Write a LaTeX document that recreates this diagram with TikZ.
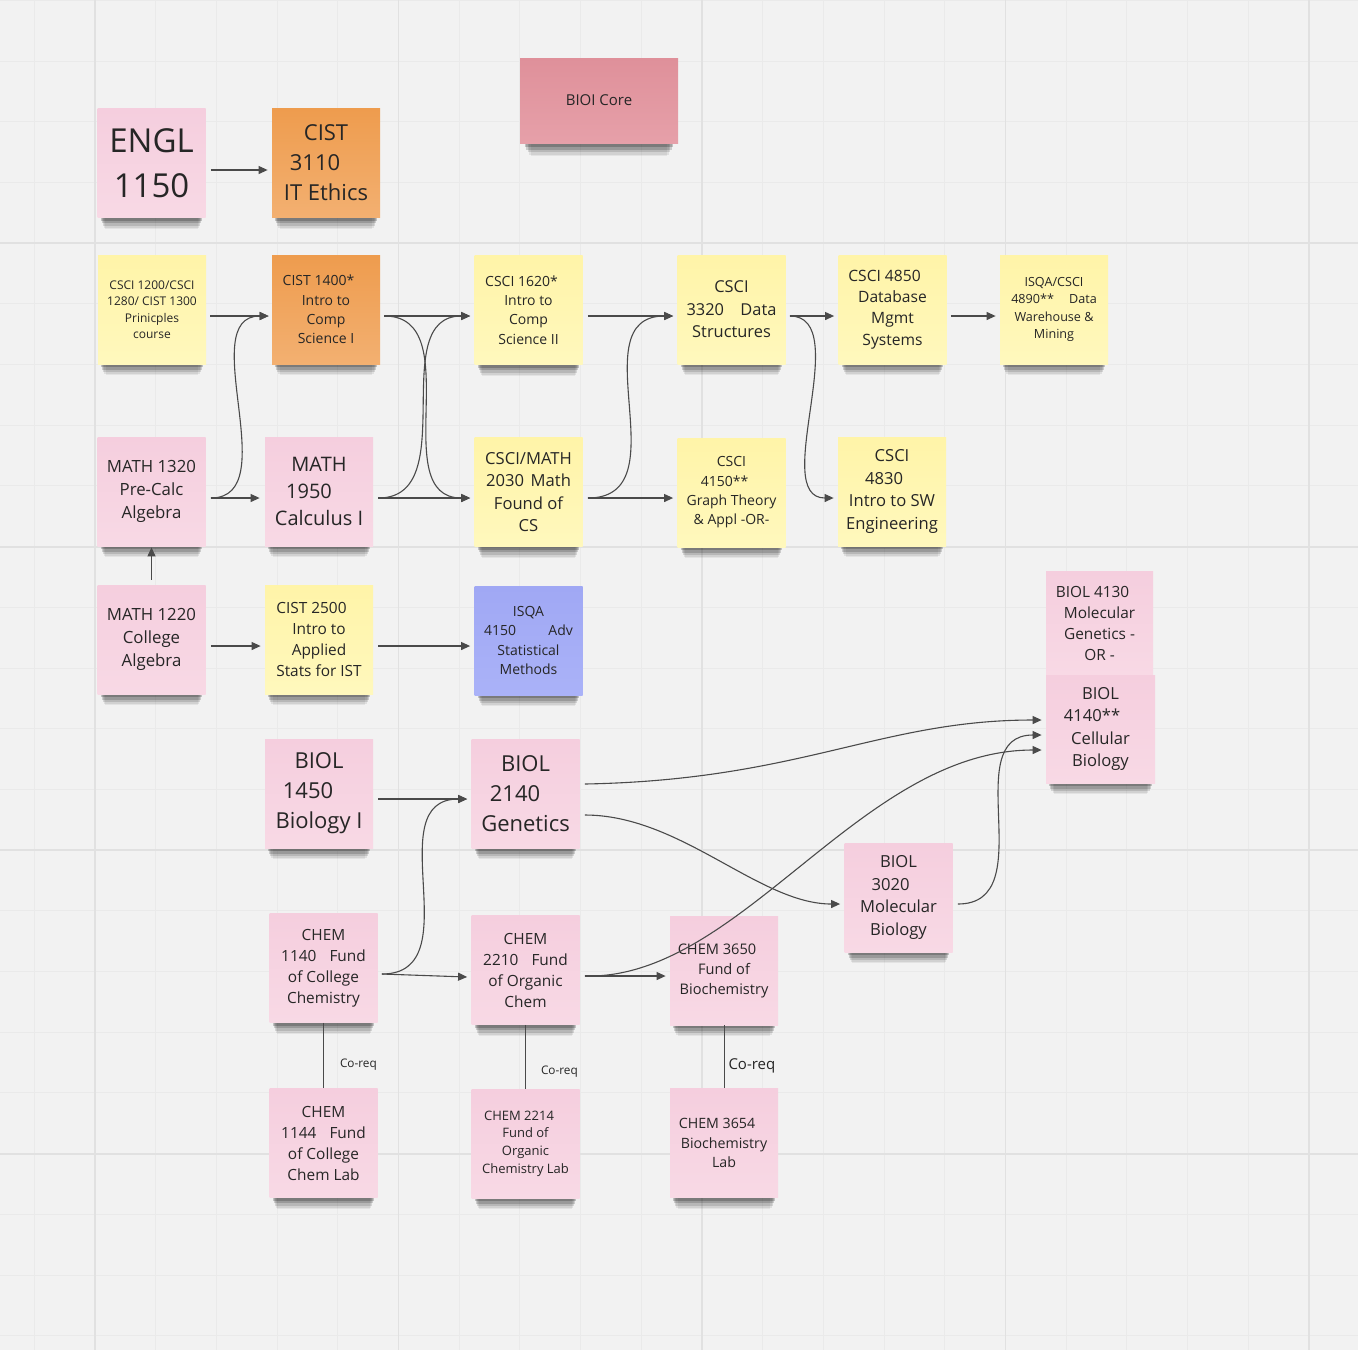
\documentclass[tikz,border=0pt]{standalone}
\usepackage{fontspec}
\setmainfont{Open Sans}
\usetikzlibrary{arrows.meta,shadows,calc}

\definecolor{board}{HTML}{F2F2F2}
\definecolor{gridminor}{HTML}{EAEAEA}
\definecolor{gridmajor}{HTML}{E1E1E1}
\definecolor{notepink}{HTML}{F5CEDE}
\definecolor{notepinklow}{HTML}{F8D9E5}
\definecolor{noteyellow}{HTML}{FFF4A8}
\definecolor{noteyellowlow}{HTML}{FFF8BD}
\definecolor{noteorange}{HTML}{EE9C4E}
\definecolor{noteorangelow}{HTML}{F3B071}
\definecolor{notered}{HTML}{DF909A}
\definecolor{noteredlow}{HTML}{E6A0A9}
\definecolor{noteblue}{HTML}{A0A8F4}
\definecolor{notebluelow}{HTML}{AAB2F8}
\definecolor{inkgray}{HTML}{262626}
\definecolor{linkgray}{HTML}{4A4A4A}

\newcommand\fs[2]{\fontsize{#1}{#2}\selectfont}
\newcommand\padr[1]{\makebox[#1]{}}

\tikzset{
  note/.style={minimum width=54pt, minimum height=54.5pt, inner sep=0pt, align=center, text=inkgray,
    general shadow={fill=black, opacity=.06, shadow scale=.86, shadow yshift=-11pt},
    general shadow={fill=black, opacity=.08, shadow scale=.88, shadow yshift=-9.5pt},
    general shadow={fill=black, opacity=.12, shadow scale=.90, shadow yshift=-7.5pt},
    general shadow={fill=black, opacity=.16, shadow scale=.92, shadow yshift=-5.5pt},
    general shadow={fill=black, opacity=.20, shadow scale=.94, shadow yshift=-3.5pt}},
  pink note/.style={note, top color=notepink, bottom color=notepinklow},
  yellow note/.style={note, top color=noteyellow, bottom color=noteyellowlow},
  orange note/.style={note, top color=noteorange, bottom color=noteorangelow},
  red note/.style={note, top color=notered, bottom color=noteredlow},
  blue note/.style={note, top color=noteblue, bottom color=notebluelow},
  link/.style={draw=linkgray, line width=.55pt, -{Triangle[length=4.5pt,width=4pt]}},
  coreq/.style={draw=linkgray, line width=.5pt},
  coreq label/.style={anchor=west, inner sep=0pt, text=inkgray},
}

\begin{document}
\begin{tikzpicture}[x=.5pt,y=-.5pt]
\useasboundingbox (0,0) rectangle (1358,1350);
% board and grid
\fill[board] (0,0) rectangle (1358,1350);
\foreach \k in {0,...,22} {
  \draw[gridminor,line width=.5pt] ({34.3+60.7*\k},0) -- ++(0,1350);
  \draw[gridminor,line width=.5pt] (0,{.3+60.7*\k}) -- ++(1358,0);
}
\foreach \k in {1,6,11,16,21} \draw[gridmajor,line width=.9pt] ({34.3+60.7*\k},0) -- ++(0,1350);
\foreach \k in {4,9,14,19} \draw[gridmajor,line width=.9pt] (0,{.3+60.7*\k}) -- ++(1358,0);

% top row
\node[pink note, font=\fs{16.5}{22.5}] (engl) at (151.5,163) {ENGL\\1150};
\node[orange note, font=\fs{11}{15}] (cist3110) at (326,163) {CIST\\3110\padr{11pt}\\IT Ethics};
\node[red note, minimum width=79pt, minimum height=42.5pt, font=\fs{7.5}{10}] (bioi) at (599,100.5) {BIOI Core};

% computing row
\node[yellow note, font=\fs{6}{8.25}] (csci1200) at (152,309.5) {CSCI 1200/CSCI\\1280/ CIST 1300\\Prinicples\\course};
\node[orange note, font=\fs{7}{9.6}] (cist1400) at (326,309.5) {CIST 1400*\padr{7.5pt}\\Intro to\\Comp\\Science I};
\node[yellow note, font=\fs{7}{9.6}] (csci1620) at (528.5,310) {CSCI 1620*\padr{7pt}\\Intro to\\Comp\\Science II};
\node[yellow note, font=\fs{8.2}{11.2}] (csci3320) at (731.5,309.5) {CSCI\\3320\hspace{1em}Data\\Structures};
\node[yellow note, font=\fs{7.8}{10.7}] (csci4850) at (892.5,309.5) {CSCI 4850\padr{8pt}\\Database\\Mgmt\\Systems};
\node[yellow note, font=\fs{6.3}{8.7}] (isqa4890) at (1054,309.5) {ISQA/CSCI\\4890**\hspace{1.2em}Data\\Warehouse \&\\Mining};

% math row
\node[pink note, font=\fs{8.4}{11.5}] (math1320) at (151.5,491.5) {MATH 1320\\Pre-Calc\\Algebra};
\node[pink note, font=\fs{10}{13.7}] (math1950) at (319,491.5) {MATH\\1950\padr{10pt}\\Calculus I};
\node[yellow note, font=\fs{8.3}{11.3}] (csci2030) at (528.5,492) {CSCI/MATH\\2030\hspace{.4em}Math\\Found of\\CS};
\node[yellow note, font=\fs{7}{9.7}] (csci4150) at (731.5,492.5) {CSCI\\4150**\padr{7pt}\\Graph Theory\\\& Appl -OR-};
\node[yellow note, font=\fs{8.3}{11.3}] (csci4830) at (892,491.5) {CSCI\\4830\padr{8pt}\\Intro to SW\\Engineering};

% stats row
\node[pink note, font=\fs{8.4}{11.5}] (math1220) at (151.5,639.5) {MATH 1220\\College\\Algebra};
\node[yellow note, font=\fs{7.7}{10.5}] (cist2500) at (319,639.5) {CIST 2500\padr{7.5pt}\\Intro to\\Applied\\Stats for IST};
\node[blue note, font=\fs{7}{9.7}] (isqa4150) at (528.5,640.5) {ISQA\\4150\hspace{2.3em}Adv\\Statistical\\Methods};

% biology
\node[pink note, minimum width=53.5pt, minimum height=52pt, font=\fs{7.7}{10.5}] (biol4130) at (1099.5,623) {BIOL 4130\padr{7pt}\\Molecular\\Genetics -\\OR -};
\node[pink note, minimum width=54.5pt, minimum height=54pt, font=\fs{8.3}{11.3}] (biol4140) at (1100.5,729) {BIOL\\4140**\padr{8.5pt}\\Cellular\\Biology};
\node[pink note, font=\fs{11}{15}] (biol1450) at (319,793.5) {BIOL\\1450\padr{11pt}\\Biology I};
\node[pink note, font=\fs{11}{15}] (biol2140) at (525.5,793.5) {BIOL\\2140\padr{10.5pt}\\Genetics};
\node[pink note, font=\fs{8.3}{11.3}] (biol3020) at (898.5,897.5) {BIOL\\3020\padr{8pt}\\Molecular\\Biology};

% chemistry
\node[pink note, font=\fs{7.7}{10.5}] (chem1140) at (323.5,968) {CHEM\\1140\hspace{.85em}Fund\\of College\\Chemistry};
\node[pink note, font=\fs{7.7}{10.5}] (chem2210) at (525.5,970) {CHEM\\2210\hspace{.85em}Fund\\of Organic\\Chem};
\node[pink note, font=\fs{7.3}{10}] (chem3650) at (724,970.5) {CHEM 3650\padr{7pt}\\Fund of\\Biochemistry};
\node[pink note, font=\fs{7.7}{10.5}] (chem1144) at (323.5,1143) {CHEM\\1144\hspace{.85em}Fund\\of College\\Chem Lab};
\node[pink note, font=\fs{6.5}{8.85}] (chem2214) at (525.5,1143.5) {CHEM 2214\padr{6.5pt}\\Fund of\\Organic\\Chemistry Lab};
\node[pink note, font=\fs{7.1}{9.75}] (chem3654) at (724,1143) {CHEM 3654\padr{7pt}\\Biochemistry\\Lab};

% prerequisites
\draw[link] ($(engl.east)+(5,7)$) -- ($(cist3110.west)+(-4,7)$);
\draw[link] ($(csci1200.east)+(4,6.5)$) -- ($(cist1400.west)+(-3,6.5)$);
\draw[link] ($(math1320.east)+(5,6.5)$) .. controls +(75,0) and +(-75,0) .. ($(cist1400.west)+(-3,6.5)$);
\draw[link] ($(math1320.east)+(5,6.5)$) -- ($(math1950.west)+(-5,6.5)$);
\draw[link] ($(cist1400.east)+(4,6.5)$) -- ($(csci1620.west)+(-4,6)$);
\draw[link] ($(cist1400.east)+(4,6.5)$) .. controls +(85,0) and +(-85,0) .. ($(csci2030.west)+(-4,6)$);
\draw[link] ($(math1950.east)+(5,6.5)$) .. controls +(85,0) and +(-85,0) .. ($(csci1620.west)+(-4,6)$);
\draw[link] ($(math1950.east)+(5,6.5)$) -- ($(csci2030.west)+(-4,6)$);
\draw[link] ($(csci1620.east)+(5,6)$) -- ($(csci3320.west)+(-4,6.5)$);
\draw[link] ($(csci2030.east)+(5,6)$) .. controls +(95,0) and +(-95,0) .. ($(csci3320.west)+(-4,6.5)$);
\draw[link] ($(csci2030.east)+(5,6)$) -- ($(csci4150.west)+(-4,5.5)$);
\draw[link] ($(csci3320.east)+(4,6.5)$) -- ($(csci4850.west)+(-4,6.5)$);
\draw[link] ($(csci3320.east)+(4,6.5)$) .. controls +(65,0) and +(-65,0) .. ($(csci4830.west)+(-4,6.5)$);
\draw[link] ($(csci4850.east)+(4,6.5)$) -- ($(isqa4890.west)+(-4,6.5)$);
\draw[link] ($(math1220.north)+(0,-5)$) -- ($(math1320.south)+(0,1)$);
\draw[link] ($(math1220.east)+(5,6.5)$) -- ($(cist2500.west)+(-4,6.5)$);
\draw[link] ($(cist2500.east)+(5,6.5)$) -- ($(isqa4150.west)+(-4,5.5)$);
\draw[link] ($(biol1450.east)+(5,5.5)$) -- ($(biol2140.west)+(-4,5.5)$);
\draw[link] ($(chem1140.east)+(4,6)$) .. controls +(90,0) and +(-90,0) .. ($(biol2140.west)+(-4,5.5)$);
\draw[link] ($(chem1140.east)+(4,6)$) -- ($(chem2210.west)+(-4,7)$);
\draw[link] ($(chem2210.east)+(5,6)$) -- ($(chem3650.west)+(-4,5.5)$);
\draw[link] ($(chem2210.east)+(5,6)$) .. controls +(156,4) and +(-182,0) .. ($(biol4140.west)+(-4,21)$);
\draw[link] ($(biol2140.east)+(5,-9.5)$) .. controls +(216,-4) and +(-162,0) .. ($(biol4140.west)+(-4,-9)$);
\draw[link] ($(biol2140.east)+(5,21.5)$) .. controls +(96,0) and +(-81,0) .. ($(biol3020.west)+(-4,6.5)$);
\draw[link] ($(biol3020.east)+(5,6.5)$) .. controls +(85,0) and +(-85,0) .. ($(biol4140.west)+(-4,6)$);

% co-requisites
\draw[coreq] (chem1140.south) -- (chem1144.north) node[coreq label, pos=.64, xshift=8pt, font=\fs{5.9}{8}] {Co-req};
\draw[coreq] (chem2210.south) -- (chem2214.north) node[coreq label, pos=.74, xshift=7.5pt, font=\fs{5.9}{8}] {Co-req};
\draw[coreq] (chem3650.south) -- (chem3654.north) node[coreq label, pos=.64, xshift=2pt, font=\fs{7.5}{10}] {Co-req};
\end{tikzpicture}
\end{document}
